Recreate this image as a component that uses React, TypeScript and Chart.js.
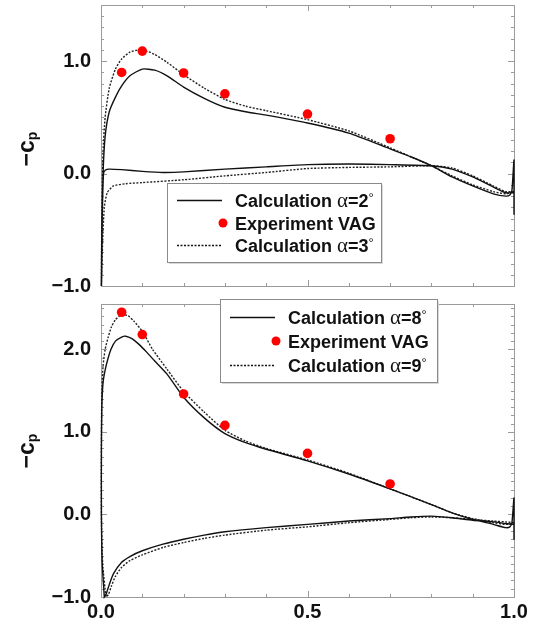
import React, { useEffect, useRef } from 'react';
import { Chart, registerables } from 'chart.js';

Chart.register(...registerables);

type P = [number, number];

// ---------- data ----------
const xTickValues = [0, 0.5, 1];
const topYTicks = [-1, 0, 1];
const bottomYTicks = [-1, 0, 1, 2];

const expX = [0.05, 0.1, 0.2, 0.3, 0.5, 0.7];
const expTopY = [0.9, 1.09, 0.895, 0.71, 0.53, 0.31];
const expBottomY = [2.45, 2.18, 1.46, 1.08, 0.74, 0.37];

// alpha = 2 deg (top, solid): lower surface TE -> LE, upper surface LE -> TE
const calc2Lower: P[] = [
  [1.0, -0.17], [0.98, -0.17], [0.95, -0.12], [0.9, -0.03], [0.85, 0.04], [0.8, 0.07],
  [0.7, 0.08], [0.6, 0.085], [0.5, 0.08], [0.4, 0.06], [0.3, 0.04], [0.2, 0.015],
  [0.15, 0.01], [0.1, 0.02], [0.05, 0.035], [0.02, 0.04], [0.01, 0.03], [0.006, 0.0],
  [0.003, -0.4], [0.001, -1.0],
];
const calc2Upper: P[] = [
  [0.001, -1.0], [0.002, -0.5], [0.005, 0.0], [0.01, 0.33], [0.02, 0.55], [0.035, 0.68],
  [0.05, 0.78], [0.07, 0.87], [0.1, 0.93], [0.13, 0.92], [0.16, 0.87], [0.2, 0.77],
  [0.25, 0.67], [0.3, 0.59], [0.35, 0.55], [0.4, 0.52], [0.5, 0.45], [0.6, 0.36],
  [0.7, 0.22], [0.75, 0.15], [0.8, 0.07], [0.85, -0.03], [0.9, -0.11], [0.95, -0.18],
  [0.98, -0.2], [0.99, -0.19], [0.995, -0.15], [1.0, 0.12], [1.0, -0.36], [1.0, -0.18],
];
// alpha = 3 deg (top, dotted)
const calc3Lower: P[] = [
  [1.0, -0.16], [0.98, -0.16], [0.95, -0.11], [0.9, -0.02], [0.85, 0.05], [0.8, 0.07],
  [0.7, 0.06], [0.6, 0.055], [0.5, 0.045], [0.4, 0.01], [0.3, -0.02], [0.2, -0.055],
  [0.1, -0.08], [0.06, -0.09], [0.03, -0.11], [0.015, -0.17], [0.008, -0.3],
  [0.004, -0.6], [0.001, -1.0],
];
const calc3Upper: P[] = [
  [0.001, -1.0], [0.002, -0.4], [0.005, 0.2], [0.01, 0.5], [0.02, 0.76], [0.035, 0.93],
  [0.05, 1.02], [0.07, 1.08], [0.09, 1.1], [0.11, 1.09], [0.13, 1.06], [0.16, 0.99],
  [0.2, 0.88], [0.25, 0.76], [0.3, 0.66], [0.35, 0.6], [0.4, 0.56], [0.5, 0.48],
  [0.6, 0.38], [0.7, 0.23], [0.75, 0.15], [0.8, 0.07], [0.85, -0.02], [0.9, -0.1],
  [0.95, -0.16], [0.98, -0.18], [0.99, -0.17], [1.0, -0.16],
];
// alpha = 8 deg (bottom, solid)
const calc8Lower: P[] = [
  [1.0, -0.12], [0.98, -0.11], [0.95, -0.09], [0.9, -0.07], [0.85, -0.04], [0.8, -0.02],
  [0.75, -0.03], [0.7, -0.05], [0.6, -0.08], [0.5, -0.12], [0.4, -0.16], [0.3, -0.21],
  [0.25, -0.25], [0.2, -0.3], [0.15, -0.36], [0.1, -0.44], [0.07, -0.51], [0.05, -0.58],
  [0.03, -0.72], [0.02, -0.85], [0.012, -0.97], [0.008, -1.0],
];
const calc8Upper: P[] = [
  [0.008, -1.0], [0.003, -0.6], [0.001, 0.0], [0.001, 0.8], [0.002, 1.3], [0.005, 1.6],
  [0.01, 1.75], [0.017, 1.89], [0.025, 2.01], [0.035, 2.1], [0.05, 2.15], [0.06, 2.16],
  [0.075, 2.13], [0.09, 2.07], [0.11, 1.97], [0.13, 1.86], [0.16, 1.7], [0.2, 1.42],
  [0.25, 1.17], [0.3, 0.98], [0.35, 0.87], [0.4, 0.79], [0.5, 0.65], [0.6, 0.49],
  [0.7, 0.31], [0.8, 0.12], [0.85, 0.02], [0.9, -0.06], [0.95, -0.12], [0.98, -0.16],
  [0.99, -0.15], [0.995, -0.1], [1.0, 0.2], [1.0, -0.3], [1.0, -0.12],
];
// alpha = 9 deg (bottom, dotted)
const calc9Lower: P[] = [
  [1.0, -0.1], [0.98, -0.09], [0.95, -0.08], [0.9, -0.06], [0.85, -0.04], [0.8, -0.03],
  [0.75, -0.04], [0.7, -0.06], [0.6, -0.1], [0.5, -0.15], [0.4, -0.19], [0.3, -0.25],
  [0.25, -0.29], [0.2, -0.34], [0.15, -0.4], [0.1, -0.49], [0.07, -0.56], [0.05, -0.64],
  [0.035, -0.75], [0.025, -0.87], [0.018, -0.97], [0.012, -1.0],
];
const calc9Upper: P[] = [
  [0.012, -1.0], [0.004, -0.6], [0.001, 0.0], [0.001, 0.9], [0.002, 1.45], [0.005, 1.8],
  [0.01, 2.0], [0.017, 2.14], [0.025, 2.27], [0.035, 2.36], [0.05, 2.42], [0.065, 2.41],
  [0.08, 2.34], [0.1, 2.22], [0.125, 2.0], [0.16, 1.76], [0.2, 1.49], [0.25, 1.24],
  [0.3, 1.02], [0.35, 0.89], [0.4, 0.8], [0.5, 0.66], [0.6, 0.5], [0.7, 0.31],
  [0.8, 0.12], [0.85, 0.02], [0.9, -0.05], [0.95, -0.1], [0.98, -0.12], [1.0, -0.11],
];

const topLegend = ['Calculation α=2°', 'Experiment VAG', 'Calculation α=3°'];
const bottomLegend = ['Calculation α=8°', 'Experiment VAG', 'Calculation α=9°'];
const axisTitle = ['−c', 'p'];

// ---------- helpers ----------
const toXY = (pts: P[]) => pts.map(([x, y]) => ({ x, y }));
const SANS = '"Liberation Sans", Arial, Helvetica, sans-serif';
const tickFont = { family: SANS, size: 20, weight: 'bold' as const };
const fmt = (v: number) => (v < 0 ? '−' : '') + Math.abs(v).toFixed(1);

function drawRich(ctx: CanvasRenderingContext2D, text: string, x: number, baseline: number) {
  const runs: { t: string; k: string }[] = [];
  for (const ch of text) {
    const k = ch === 'α' ? 'a' : ch === '°' ? 'd' : 'n';
    if (runs.length && runs[runs.length - 1].k === k) runs[runs.length - 1].t += ch;
    else runs.push({ t: ch, k });
  }
  let cx = x;
  for (const r of runs) {
    let dy = 0;
    if (r.k === 'n') ctx.font = `bold 18px ${SANS}`;
    else if (r.k === 'a') ctx.font = '21px "Liberation Serif", "DejaVu Serif", serif';
    else { ctx.font = `13px ${SANS}`; dy = -5; }
    ctx.fillText(r.t, cx, baseline + dy);
    cx += ctx.measureText(r.t).width;
  }
}

interface Deco {
  box: { x: number; y: number; w: number; h: number };
  rows: number[];
  labels: string[];
  titleY: number;
}

function decoPlugin(d: Deco) {
  return {
    id: 'deco',
    beforeDatasetsDraw(chart: any) {
      const { ctx, chartArea: a, scales } = chart;
      const xs = scales.x, ys = scales.y;
      ctx.save();
      ctx.strokeStyle = '#9a9a9a';
      ctx.lineWidth = 1;
      ctx.strokeRect(Math.round(a.left) + 0.5, Math.round(a.top) + 0.5, Math.round(a.right - a.left), Math.round(a.bottom - a.top));
      ctx.beginPath();
      for (let i = 0; i <= 10; i++) {
        const px = Math.round(xs.getPixelForValue(i / 10)) + 0.5;
        const len = i % 5 === 0 ? 6 : 3;
        ctx.moveTo(px, a.bottom); ctx.lineTo(px, a.bottom - len);
        ctx.moveTo(px, a.top); ctx.lineTo(px, a.top + len);
      }
      const kMin = Math.round(ys.min * 10), kMax = Math.floor(ys.max * 10 + 1e-6);
      for (let k = kMin; k <= kMax; k++) {
        const py = Math.round(ys.getPixelForValue(k / 10)) + 0.5;
        const len = k % 10 === 0 ? 6 : 3;
        ctx.moveTo(a.left, py); ctx.lineTo(a.left + len, py);
        ctx.moveTo(a.right, py); ctx.lineTo(a.right - len, py);
      }
      ctx.stroke();
      ctx.restore();
    },
    afterDatasetsDraw(chart: any) {
      const { ctx } = chart;
      const b = d.box;
      ctx.save();
      // legend box
      ctx.fillStyle = '#d8d8d8';
      ctx.fillRect(b.x + 2, b.y + 2, b.w, b.h);
      ctx.fillStyle = '#ffffff';
      ctx.fillRect(b.x, b.y, b.w, b.h);
      ctx.strokeStyle = '#8a8a8a';
      ctx.lineWidth = 1;
      ctx.strokeRect(b.x + 0.5, b.y + 0.5, b.w, b.h);
      const sx0 = b.x + 10, sx1 = b.x + 55, tx = b.x + 68;
      d.rows.forEach((ry, i) => {
        const y = b.y + ry;
        if (i === 1) {
          ctx.fillStyle = '#ff0000';
          ctx.beginPath(); ctx.arc(sx1 + 1, y, 4.5, 0, Math.PI * 2); ctx.fill();
        } else {
          ctx.strokeStyle = '#111';
          ctx.lineWidth = i === 0 ? 1.6 : 1.4;
          ctx.setLineDash(i === 0 ? [] : [2, 1.5]);
          ctx.beginPath(); ctx.moveTo(sx0, y + 0.5); ctx.lineTo(sx1, y + 0.5); ctx.stroke();
          ctx.setLineDash([]);
        }
        ctx.fillStyle = '#111';
        ctx.textBaseline = 'alphabetic';
        ctx.textAlign = 'left';
        drawRich(ctx, d.labels[i], tx, y + 6.5);
      });
      // y-axis title, rotated
      ctx.translate(30, d.titleY);
      ctx.rotate(-Math.PI / 2);
      ctx.fillStyle = '#111';
      ctx.font = `bold 23px ${SANS}`;
      const w1 = ctx.measureText(axisTitle[0]).width;
      ctx.font = `bold 14px ${SANS}`;
      const w2 = ctx.measureText(axisTitle[1]).width;
      const start = -(w1 + w2) / 2;
      ctx.font = `bold 23px ${SANS}`;
      ctx.fillText(axisTitle[0], start, 4);
      ctx.font = `bold 14px ${SANS}`;
      ctx.fillText(axisTitle[1], start + w1, 7);
      ctx.restore();
    },
  };
}

function makeChart(
  canvas: HTMLCanvasElement,
  opts: {
    lineA: P[][]; lineB: P[][]; expY: number[]; yMax: number; yTicks: number[];
    showX: boolean; padTop: number; xHeight: number; deco: Deco;
  }
) {
  const datasets: any[] = [
    {
      data: expX.map((x, i) => ({ x, y: opts.expY[i] })),
      showLine: false, pointRadius: 4.8, pointBackgroundColor: '#ff0000',
      pointBorderWidth: 0, borderColor: '#ff0000', clip: false,
    },
    {
      data: toXY([...opts.lineA[0], ...opts.lineA[1]]),
      showLine: true, pointRadius: 0, borderColor: '#111', borderWidth: 1.4,
      tension: 0.2, clip: false,
    },
    {
      data: toXY([...opts.lineB[0], ...opts.lineB[1]]),
      showLine: true, pointRadius: 0, borderColor: '#222', borderWidth: 1.4,
      borderDash: [2, 1.5], tension: 0.2, clip: false,
    },
  ];
  return new Chart(canvas, {
    type: 'scatter',
    data: { datasets },
    options: {
      animation: false,
      responsive: false,
      maintainAspectRatio: false,
      events: [],
      layout: { padding: { top: opts.padTop, right: 20, bottom: 0, left: 0 } },
      plugins: { legend: { display: false }, tooltip: { enabled: false } },
      scales: {
        x: {
          type: 'linear', min: 0, max: 1,
          grid: { display: false, drawTicks: false },
          border: { display: false },
          afterBuildTicks: (s: any) => { s.ticks = xTickValues.map((v) => ({ value: v })); },
          ticks: {
            display: opts.showX, font: tickFont, color: '#111', padding: 3,
            maxRotation: 0, autoSkip: false, callback: (v: any) => fmt(Number(v)),
          },
          afterFit: (s: any) => { s.height = opts.xHeight; s.paddingLeft = 0; s.paddingRight = 0; },
        },
        y: {
          type: 'linear', min: -1, max: opts.yMax,
          grid: { display: false, drawTicks: false },
          border: { display: false },
          afterBuildTicks: (s: any) => { s.ticks = opts.yTicks.map((v) => ({ value: v })); },
          ticks: { font: tickFont, color: '#111', padding: 10, autoSkip: false, callback: (v: any) => fmt(Number(v)) },
          afterFit: (s: any) => { s.width = 101; s.paddingTop = 0; s.paddingBottom = 0; },
        },
      },
    } as any,
    plugins: [decoPlugin(opts.deco)],
  });
}

export default function App() {
  const topRef = useRef<HTMLCanvasElement>(null);
  const botRef = useRef<HTMLCanvasElement>(null);

  useEffect(() => {
    const top = makeChart(topRef.current!, {
      lineA: [calc2Lower, calc2Upper], lineB: [calc3Lower, calc3Upper], expY: expTopY,
      yMax: 1.5, yTicks: topYTicks, showX: false, padTop: 5, xHeight: 14,
      deco: { box: { x: 167, y: 183, w: 214, h: 79 }, rows: [17, 40, 62], labels: topLegend, titleY: 149 },
    });
    const bot = makeChart(botRef.current!, {
      lineA: [calc8Lower, calc8Upper], lineB: [calc9Lower, calc9Upper], expY: expBottomY,
      yMax: 2.55, yTicks: bottomYTicks, showX: true, padTop: 8, xHeight: 30,
      deco: { box: { x: 220, y: 3, w: 217, h: 83 }, rows: [18, 42, 66], labels: bottomLegend, titleY: 155 },
    });
    return () => { top.destroy(); bot.destroy(); };
  }, []);

  return (
    <div style={{ position: 'absolute', left: 0, top: 0, width: 534, height: 627, background: '#fff' }}>
      <canvas ref={topRef} width={534} height={300} style={{ position: 'absolute', left: 0, top: 0 }} />
      <canvas ref={botRef} width={534} height={331} style={{ position: 'absolute', left: 0, top: 296 }} />
    </div>
  );
}
